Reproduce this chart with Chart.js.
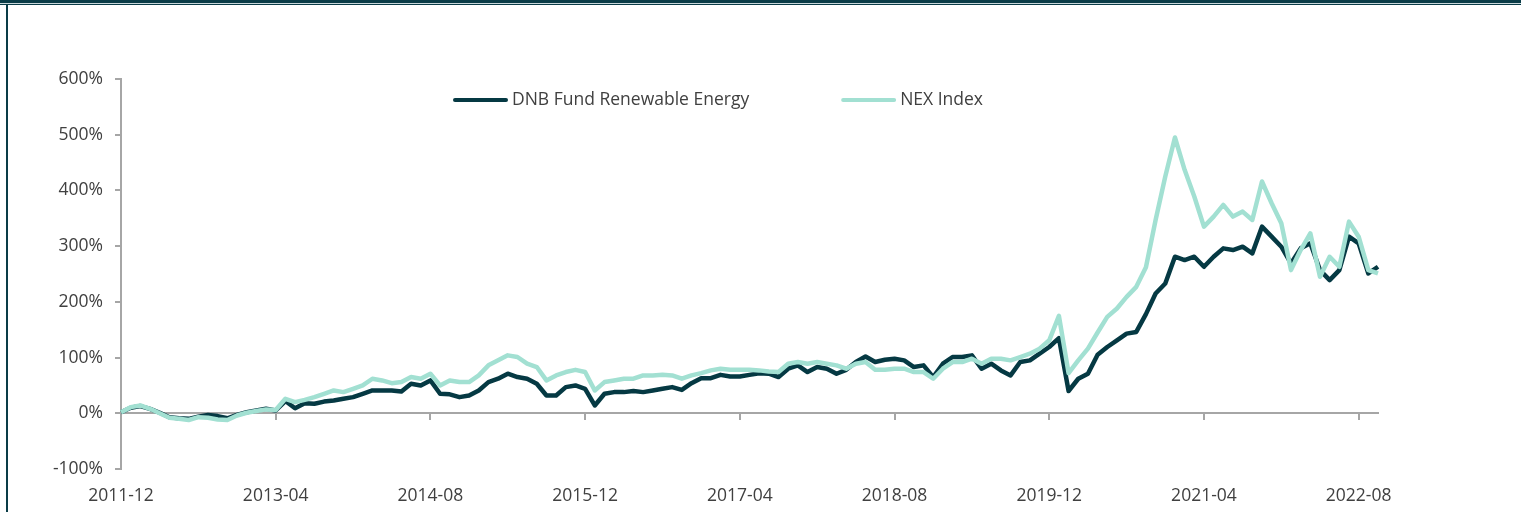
<!DOCTYPE html>
<html>
<head>
<meta charset="utf-8">
<title>DNB Fund Renewable Energy vs NEX Index</title>
<script src="https://cdn.jsdelivr.net/npm/chart.js@4.4.1/dist/chart.umd.min.js"></script>
<style>
  html, body { margin: 0; padding: 0; background: #fff; }
  #wrap { position: relative; width: 1521px; height: 512px; overflow: hidden; background: #fff; }
  #myChart { position: absolute; left: 0; top: 0; }
  .frame { position: absolute; background: #0a3c47; }
  #bandTop { left: 0; top: 0; width: 1521px; height: 3px; }
  #bandGap { position: absolute; left: 0; top: 3px; width: 1521px; height: 1px; background: #c9d8db; }
  #bandLine { left: 0; top: 4px; width: 1521px; height: 1px; }
  #sideLine { left: 6px; top: 4px; width: 2px; height: 508px; }
</style>
</head>
<body>
<div id="wrap">
  <canvas id="myChart" width="1521" height="512"></canvas>
  <div class="frame" id="bandTop"></div>
  <div id="bandGap"></div>
  <div class="frame" id="bandLine"></div>
  <div class="frame" id="sideLine"></div>
</div>
<script>
// monthly categories, 2011-12 .. 2022-10
const months = [];
for (let y = 2011, m = 12; y < 2022 || (y === 2022 && m <= 10); m++) {
	if (m > 12) { m = 1; y++; }
	months.push(y + "-" + String(m).padStart(2, "0"));
}

// labels shown under the axis
const xTickLabels = ["2011-12", "2013-04", "2014-08", "2015-12", "2017-04", "2018-08", "2019-12", "2021-04", "2022-08"];

// cumulative return in % (one value per month)
const dnbFund = [
	2, 10, 13, 8, 1, -7, -9, -10, -6, -3, -5, -9, -3, 2, 5, 8, 5, 22, 9, 18,
	17, 21, 23, 26, 29, 35, 41, 41, 41, 39, 53, 50, 59, 35, 34, 29, 32, 41, 56, 62,
	71, 65, 62, 53, 32, 32, 47, 50, 44, 14, 35, 38, 38, 40, 38, 41, 44, 47, 42, 54,
	63, 63, 69, 66, 66, 69, 72, 71, 65, 80, 86, 74, 83, 80, 71, 78, 92, 102, 92, 96,
	98, 95, 83, 86, 65, 89, 101, 101, 104, 80, 89, 77, 68, 92, 95, 107, 119, 135, 40, 62,
	71, 105, 119, 131, 143, 146, 178, 215, 233, 281, 275, 281, 263, 281, 296, 293, 299, 287, 335, 317,
	299, 269, 296, 305, 257, 239, 257, 317, 305, 251, 263
];
const nexIndex = [
	2, 11, 14, 8, 0, -8, -10, -12, -7, -8, -11, -12, -4, 1, 4, 7, 6, 26, 20, 24,
	29, 35, 41, 38, 44, 50, 62, 59, 54, 56, 65, 62, 71, 50, 59, 56, 56, 68, 86, 95,
	104, 101, 89, 83, 59, 68, 74, 78, 74, 41, 56, 59, 62, 62, 68, 68, 69, 68, 62, 68,
	72, 77, 80, 78, 78, 78, 77, 75, 74, 89, 92, 89, 92, 89, 86, 80, 89, 92, 78, 78,
	80, 80, 74, 74, 62, 80, 92, 92, 98, 89, 98, 98, 95, 101, 107, 116, 131, 175, 72, 95,
	116, 145, 173, 188, 209, 227, 262, 347, 425, 495, 437, 389, 335, 353, 374, 353, 362, 347, 416, 377,
	341, 257, 293, 323, 245, 281, 263, 344, 317, 257, 251
];

const axisGrey = "#a6a6a6";
const textGrey = "#404040";

Chart.defaults.font.family = "'Open Sans', sans-serif";
Chart.defaults.font.size = 17.5;
Chart.defaults.color = textGrey;

// the legend sits inside the plot, off-centre, like the Excel original
const floatingLegend = {
	id: "floatingLegend",
	afterDraw(chart) {
		const c = chart.ctx;
		const area = chart.chartArea;
		c.save();
		c.font = Chart.helpers.toFont(Chart.defaults.font).string;
		c.textBaseline = "middle";
		c.textAlign = "left";
		let x = area.left + 332;
		const y = area.top + 21;
		chart.data.datasets.forEach((ds) => {
			c.strokeStyle = ds.borderColor;
			c.lineWidth = 4;
			c.lineCap = "round";
			c.beginPath();
			c.moveTo(x + 2, y);
			c.lineTo(x + 53, y);
			c.stroke();
			x += 59;
			c.fillStyle = textGrey;
			c.fillText(ds.label, x, y);
			x += c.measureText(ds.label).width + 92;
		});
		c.restore();
	},
};

const ctx = document.getElementById("myChart").getContext("2d");

const myChart = new Chart(ctx, {
	type: "line",
	data: {
		labels: months,
		datasets: [
			{
				label: "DNB Fund Renewable Energy",
				data: dnbFund,
				borderColor: "#053943",
				backgroundColor: "#053943",
				borderWidth: 4.5,
				pointRadius: 0,
				borderJoinStyle: "round",
				order: 1,
			},
			{
				label: "NEX Index",
				data: nexIndex,
				borderColor: "#a2e0d2",
				backgroundColor: "#a2e0d2",
				borderWidth: 4.5,
				pointRadius: 0,
				borderJoinStyle: "round",
				order: 0,
			},
		],
	},
	options: {
		responsive: false,
		animation: false,
		layout: {
			padding: { left: 0, right: 143, top: 79, bottom: 0 },
		},
		plugins: {
			tooltip: { enabled: false },
			legend: { display: false },
		},
		scales: {
			// axis line through 0% with the tick marks
			x: {
				position: { y: 0 },
				ticks: { display: false, autoSkip: false },
				grid: {
					drawOnChartArea: false,
					tickLength: 6,
					lineWidth: 2,
					color: (c) => (xTickLabels.includes(months[c.index]) ? axisGrey : "rgba(0,0,0,0)"),
				},
				border: { color: axisGrey, width: 2 },
			},
			// date labels at the bottom
			x2: {
				type: "category",
				position: "bottom",
				grid: { display: false, drawTicks: false },
				border: { display: false },
				ticks: {
					autoSkip: false,
					maxRotation: 0,
					padding: 17,
					callback: function (v) {
						const l = this.getLabelForValue(v);
						return xTickLabels.includes(l) ? l : null;
					},
				},
				afterFit: (s) => {
					s.height = 43;
				},
			},
			y: {
				min: -100,
				max: 600,
				ticks: {
					stepSize: 100,
					padding: 12,
					callback: (v) => v + "%",
				},
				grid: { drawOnChartArea: false, tickLength: 6, lineWidth: 2, color: axisGrey },
				border: { color: axisGrey, width: 2 },
				afterFit: (s) => {
					s.width = 121;
				},
			},
		},
	},
	plugins: [floatingLegend],
});
</script>
</body>
</html>
